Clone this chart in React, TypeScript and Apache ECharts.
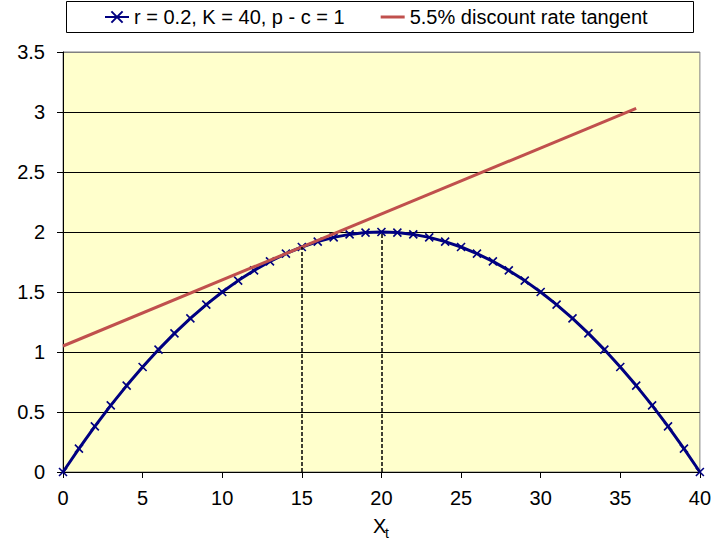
import React, { useEffect, useRef } from "react";
import * as echarts from "echarts";

// Harvest / growth values (x = 0..40)
const xValues = [
  0, 1, 2, 3, 4, 5, 6, 7, 8, 9, 10, 11, 12, 13, 14, 15, 16, 17, 18, 19, 20,
  21, 22, 23, 24, 25, 26, 27, 28, 29, 30, 31, 32, 33, 34, 35, 36, 37, 38, 39, 40,
];
const growthValues = [
  0, 0.195, 0.38, 0.555, 0.72, 0.875, 1.02, 1.155, 1.28, 1.395, 1.5, 1.595,
  1.68, 1.755, 1.82, 1.875, 1.92, 1.955, 1.98, 1.995, 2, 1.995, 1.98, 1.955,
  1.92, 1.875, 1.82, 1.755, 1.68, 1.595, 1.5, 1.395, 1.28, 1.155, 1.02, 0.875,
  0.72, 0.555, 0.38, 0.195, 0,
];
const tangentX = [0, 36];
const tangentY = [1.05, 3.03];
const dropX = [15, 20];
const dropY = [1.875, 2];

const seriesNames = ["r = 0.2, K = 40, p - c = 1", "5.5% discount rate tangent"];

const FONT = "'Liberation Sans', Arial, Helvetica, sans-serif";

export default function App() {
  const ref = useRef<HTMLDivElement>(null);

  useEffect(() => {
    if (!ref.current) return;
    const chart = echarts.init(ref.current, null, { renderer: "svg" });
    const curve = xValues.map((x, i) => [x, growthValues[i]]);
    const tangent = tangentX.map((x, i) => [x, tangentY[i]]);
    const drops = dropX.map((x, i) => [
      { coord: [x, 0] },
      { coord: [x, dropY[i]] },
    ]);

    chart.setOption({
      animation: false,
      backgroundColor: "#ffffff",
      textStyle: { fontFamily: FONT },
      graphic: [
        {
          type: "rect",
          z: -1,
          shape: { x: 66.5, y: 1.5, width: 627, height: 31 },
          style: { fill: "#ffffff", stroke: "#000000", lineWidth: 1 },
        },
        {
          type: "text",
          x: 373,
          y: 516,
          style: { text: "X", fontSize: 20, fontFamily: FONT, fill: "#000" },
        },
        {
          type: "text",
          x: 385,
          y: 526,
          style: { text: "t", fontSize: 14, fontFamily: FONT, fill: "#000" },
        },
      ],
      legend: {
        data: [
          { name: seriesNames[0] },
          { name: seriesNames[1], icon: "path://M0,0M0,5.5L24,5.5L24,8.5L0,8.5ZM24,14" },
        ],
        left: 104,
        top: 7,
        padding: 0,
        itemWidth: 24,
        itemHeight: 14,
        itemGap: 36,
        textStyle: { fontSize: 20, color: "#000", fontFamily: FONT },
      },
      grid: {
        left: 63,
        right: 14,
        top: 52,
        bottom: 72,
        show: true,
        backgroundColor: "#FFFFCC",
        borderColor: "#808080",
        borderWidth: 1,
      },
      xAxis: {
        type: "value",
        min: 0,
        max: 40,
        interval: 5,
        axisLine: { show: true, lineStyle: { color: "#000", width: 1 } },
        axisTick: { show: true, length: 6, lineStyle: { color: "#000" } },
        axisLabel: { fontSize: 20, color: "#000", margin: 16, fontFamily: FONT },
        splitLine: { show: false },
      },
      yAxis: {
        type: "value",
        min: 0,
        max: 3.5,
        interval: 0.5,
        axisLine: { show: true, lineStyle: { color: "#000", width: 1 } },
        axisTick: { show: true, length: 6, lineStyle: { color: "#000" } },
        axisLabel: { fontSize: 20, color: "#000", margin: 18, fontFamily: FONT },
        splitLine: {
          show: true,
          lineStyle: {
            color: ["#000", "#000", "#000", "#000", "#000", "#000", "#000", "#808080"],
            width: 1,
          },
        },
      },
      series: [
        {
          name: seriesNames[0],
          type: "line",
          data: curve,
          symbol: "path://M0,0L10,10M10,0L0,10",
          symbolSize: 8,
          showSymbol: true,
          lineStyle: { color: "#000080", width: 3 },
          itemStyle: { color: "#000080", borderColor: "#000080", borderWidth: 1.6 },
          markLine: {
            silent: true,
            symbol: "none",
            label: { show: false },
            lineStyle: { color: "#000", width: 1.5, type: [4, 2] },
            data: drops,
          },
          z: 2,
        },
        {
          name: seriesNames[1],
          type: "line",
          data: tangent,
          symbol: "none",
          showSymbol: false,
          lineStyle: { color: "#C0504D", width: 3 },
          itemStyle: { color: "#C0504D" },
          z: 3,
        },
      ],
    });
    return () => chart.dispose();
  }, []);

  return (
    <div
      ref={ref}
      style={{ width: 714, height: 544, position: "absolute", left: 0, top: 0 }}
    />
  );
}
